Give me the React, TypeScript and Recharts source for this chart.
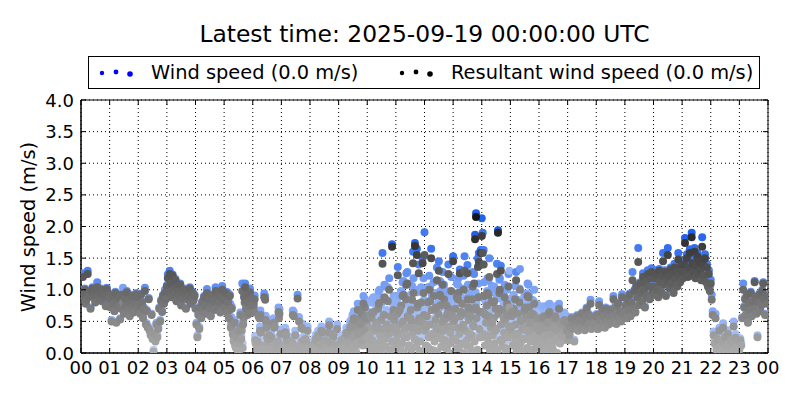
import { ScatterChart, Scatter, XAxis, YAxis, CartesianGrid, ReferenceArea } from "recharts";

// hour axis, 00..23 then 00 again at the right edge
const hourTicks = [0, 1, 2, 3, 4, 5, 6, 7, 8, 9, 10, 11, 12, 13, 14, 15, 16, 17, 18, 19, 20, 21, 22, 23, 24];
const hourLabels = ["00", "01", "02", "03", "04", "05", "06", "07", "08", "09", "10", "11", "12", "13", "14", "15", "16", "17", "18", "19", "20", "21", "22", "23", "00"];
const speedTicks = [0, 0.5, 1, 1.5, 2, 2.5, 3, 3.5, 4];

// one sample every 2 minutes (even minutes), 30 per hour, values in cm/s
const windSpeedCms = [
  94, 90, 126, 97, 102, 80, 87, 130, 98, 92, 72, 100, 104, 90, 95, 82, 101, 112, 93, 88, 97, 102, 84, 99, 91, 95, 76, 103, 97, 92, // 00
  87, 74, 52, 92, 80, 68, 97, 50, 84, 76, 90, 55, 72, 94, 103, 64, 88, 77, 98, 70, 86, 60, 81, 92, 74, 66, 89, 79, 95, 72, // 01
  90, 77, 64, 94, 82, 57, 72, 103, 48, 68, 43, 87, 38, 31, 62, 25, 5, 33, 21, 48, 28, 41, 72, 52, 84, 67, 92, 80, 100, 87, // 02
  107, 124, 98, 130, 112, 90, 124, 102, 95, 117, 84, 106, 100, 92, 110, 77, 97, 88, 102, 94, 72, 99, 86, 93, 104, 80, 90, 97, 85, 92, // 03
  72, 48, 28, 62, 41, 74, 57, 82, 68, 90, 76, 64, 101, 80, 87, 72, 60, 92, 78, 84, 70, 104, 88, 74, 94, 82, 66, 90, 106, 86, // 04
  87, 74, 97, 66, 82, 58, 92, 44, 73, 34, 22, 52, 14, 29, 9, 39, 19, 64, 26, 110, 49, 90, 110, 72, 94, 82, 64, 102, 77, 88, // 05
  88, 84, 91, 22, 19, 25, 65, 62, 67, 12, 9, 13, 94, 90, 48, 32, 29, 35, 9, 7, 11, 52, 55, 49, 17, 15, 21, 72, 69, 37, // 06
  11, 9, 14, 37, 40, 35, 6, 7, 8, 22, 25, 19, 67, 65, 10, 8, 6, 92, 17, 19, 15, 47, 45, 9, 27, 29, 25, 12, 10, 15, // 07
  14, 16, 12, 6, 8, 7, 29, 27, 32, 11, 9, 21, 42, 40, 6, 18, 21, 16, 8, 6, 50, 24, 22, 10, 35, 37, 13, 6, 9, 19, // 08
  10, 12, 8, 27, 25, 6, 17, 19, 40, 8, 6, 22, 50, 52, 15, 33, 66, 63, 20, 23, 78, 38, 56, 59, 72, 28, 90, 44, 70, 67, // 09
  48, 45, 50, 82, 80, 85, 30, 28, 33, 66, 68, 62, 98, 100, 40, 38, 158, 35, 108, 105, 58, 55, 60, 118, 25, 28, 172, 78, 75, 80, // 10
  62, 58, 136, 90, 92, 28, 25, 112, 114, 48, 50, 126, 128, 34, 35, 78, 75, 106, 160, 64, 174, 44, 165, 100, 140, 22, 26, 74, 150, 118, // 11
  191, 68, 65, 32, 30, 122, 105, 165, 50, 52, 26, 92, 95, 135, 62, 145, 114, 112, 45, 128, 76, 78, 30, 98, 85, 140, 22, 55, 120, 80, // 12
  153, 75, 78, 42, 110, 108, 30, 132, 88, 62, 64, 122, 153, 38, 35, 139, 95, 52, 80, 24, 108, 66, 125, 187, 221, 90, 150, 158, 48, 163, // 13
  213, 190, 163, 85, 82, 50, 118, 115, 150, 32, 35, 70, 102, 105, 58, 26, 141, 194, 92, 118, 138, 42, 45, 78, 108, 24, 20, 82, 125, 130, // 14
  62, 64, 88, 34, 36, 106, 128, 52, 26, 30, 133, 74, 44, 20, 24, 92, 94, 58, 110, 108, 70, 40, 82, 84, 24, 100, 50, 32, 64, 76, // 15
  52, 55, 30, 28, 72, 74, 42, 22, 20, 66, 76, 78, 36, 48, 26, 60, 58, 74, 40, 18, 56, 78, 33, 62, 45, 48, 62, 50, 54, 58, // 16
  37, 23, 30, 44, 57, 40, 47, 21, 52, 42, 60, 37, 48, 54, 42, 64, 46, 52, 38, 57, 72, 44, 62, 48, 84, 40, 58, 50, 46, 60, // 17
  47, 62, 40, 82, 54, 44, 67, 50, 60, 42, 72, 52, 64, 47, 57, 70, 50, 60, 90, 54, 80, 48, 62, 80, 57, 68, 52, 93, 64, 60, // 18
  64, 77, 57, 87, 70, 94, 60, 82, 128, 72, 100, 66, 107, 90, 166, 78, 112, 97, 84, 126, 102, 74, 114, 92, 131, 107, 87, 120, 134, 100, // 19
  107, 94, 121, 131, 102, 90, 133, 114, 98, 125, 158, 110, 131, 92, 117, 166, 123, 104, 135, 112, 128, 97, 141, 120, 131, 107, 158, 124, 114, 144, // 20
  134, 124, 146, 182, 131, 156, 126, 141, 164, 128, 190, 148, 134, 166, 124, 144, 158, 130, 151, 136, 121, 183, 146, 128, 156, 118, 141, 111, 131, 104, // 21
  116, 92, 66, 34, 21, 62, 10, 28, 5, 40, 15, 6, 24, 47, 10, 31, 4, 17, 36, 22, 12, 26, 4, 20, 50, 9, 30, 15, 3, 24, // 22
  8, 23, 15, 57, 110, 74, 87, 62, 94, 50, 80, 70, 97, 60, 84, 72, 114, 90, 64, 28, 82, 94, 68, 77, 100, 112, 87, 62, 92, 80, // 23
];

const resultantCms = [
  92, 88, 120, 95, 100, 78, 85, 125, 96, 90, 70, 98, 102, 88, 93, 80, 99, 104, 91, 86, 95, 100, 82, 97, 89, 93, 74, 101, 95, 90, // 00
  85, 72, 50, 90, 78, 66, 95, 48, 82, 74, 88, 53, 70, 92, 80, 62, 86, 75, 96, 68, 84, 58, 79, 90, 72, 64, 87, 77, 93, 70, // 01
  88, 75, 62, 92, 80, 55, 70, 98, 45, 66, 40, 85, 35, 28, 60, 22, 2, 30, 18, 45, 25, 38, 70, 50, 82, 65, 90, 78, 95, 85, // 02
  105, 118, 96, 125, 110, 88, 122, 100, 93, 115, 82, 104, 98, 90, 108, 75, 95, 86, 100, 92, 70, 97, 84, 91, 102, 78, 88, 95, 83, 90, // 03
  70, 45, 25, 60, 38, 72, 55, 80, 66, 88, 74, 62, 95, 78, 85, 70, 58, 90, 76, 82, 68, 98, 86, 72, 92, 80, 64, 88, 100, 84, // 04
  85, 72, 95, 64, 80, 55, 90, 40, 70, 30, 18, 48, 10, 25, 5, 35, 15, 60, 22, 98, 45, 88, 104, 70, 92, 80, 62, 96, 75, 86, // 05
  82, 78, 85, 15, 12, 18, 58, 55, 60, 5, 2, 6, 88, 84, 40, 25, 22, 28, 2, 0, 4, 45, 48, 42, 10, 8, 14, 65, 62, 30, // 06
  5, 3, 8, 30, 33, 28, 0, 1, 2, 15, 18, 12, 60, 58, 4, 2, 0, 86, 10, 12, 8, 40, 38, 3, 20, 22, 18, 6, 4, 9, // 07
  8, 10, 6, 0, 2, 1, 22, 20, 25, 5, 3, 14, 35, 33, 0, 12, 15, 10, 2, 0, 44, 18, 16, 4, 28, 30, 7, 0, 3, 13, // 08
  4, 6, 2, 20, 18, 0, 10, 12, 32, 2, 0, 15, 40, 42, 8, 25, 55, 52, 12, 15, 68, 30, 45, 48, 62, 20, 78, 35, 58, 55, // 09
  25, 22, 28, 60, 58, 63, 8, 5, 10, 42, 45, 40, 78, 80, 18, 15, 141, 12, 88, 85, 35, 32, 38, 100, 2, 5, 168, 55, 52, 58, // 10
  38, 35, 123, 66, 68, 5, 2, 90, 92, 25, 28, 108, 110, 10, 12, 55, 52, 84, 142, 40, 169, 20, 155, 78, 126, 0, 3, 50, 142, 95, // 11
  155, 45, 42, 10, 8, 100, 82, 150, 28, 30, 4, 70, 72, 115, 38, 130, 92, 90, 22, 108, 52, 55, 8, 75, 62, 125, 0, 32, 98, 58, // 12
  145, 52, 55, 20, 88, 85, 8, 126, 65, 40, 42, 100, 130, 15, 12, 126, 72, 30, 58, 2, 85, 44, 110, 180, 215, 68, 136, 144, 25, 158, // 13
  185, 158, 140, 62, 60, 28, 95, 92, 120, 10, 12, 48, 80, 82, 35, 5, 125, 190, 70, 100, 130, 20, 22, 55, 88, 2, 0, 60, 105, 72, // 14
  40, 42, 65, 12, 15, 85, 115, 30, 5, 8, 100, 52, 22, 0, 3, 70, 72, 35, 90, 88, 48, 18, 60, 62, 3, 78, 28, 10, 42, 55, // 15
  35, 38, 12, 10, 55, 58, 25, 4, 2, 48, 62, 65, 18, 30, 8, 42, 40, 58, 22, 0, 38, 70, 15, 45, 28, 30, 50, 35, 42, 48, // 16
  35, 20, 28, 42, 55, 38, 45, 18, 50, 40, 58, 35, 46, 52, 40, 62, 44, 50, 36, 55, 70, 42, 60, 46, 78, 38, 56, 48, 44, 58, // 17
  45, 60, 38, 76, 52, 42, 65, 48, 58, 40, 70, 50, 62, 45, 55, 68, 48, 58, 85, 52, 72, 46, 60, 78, 55, 66, 50, 88, 62, 58, // 18
  62, 75, 55, 85, 68, 92, 58, 80, 115, 70, 98, 64, 105, 88, 144, 76, 110, 95, 82, 120, 100, 72, 112, 90, 125, 105, 85, 118, 128, 98, // 19
  105, 92, 118, 125, 100, 88, 130, 112, 96, 122, 145, 108, 128, 90, 115, 155, 120, 102, 132, 110, 125, 95, 135, 118, 128, 105, 148, 122, 112, 138, // 20
  128, 118, 140, 174, 125, 150, 120, 135, 158, 122, 183, 142, 128, 160, 118, 138, 152, 124, 145, 130, 115, 168, 140, 122, 150, 112, 135, 105, 125, 98, // 21
  110, 84, 60, 28, 15, 55, 5, 22, 0, 35, 10, 2, 18, 40, 6, 25, 0, 12, 30, 3, 8, 20, 0, 15, 42, 5, 24, 10, 0, 18, // 22
  5, 20, 12, 55, 100, 72, 85, 60, 92, 48, 78, 68, 95, 58, 82, 70, 112, 88, 62, 25, 80, 92, 66, 75, 98, 110, 85, 60, 90, 78, // 23
];

// odd-minute samples for the gusty part of the day, 05:00 to 17:00
const ODD_START_HOUR = 5;
const oddWindSpeedCms = [
  84, 88, 81, 96, 94, 74, 78, 57, 52, 35, 29, 19, 15, 37, 25, 10, 17, 47, 42, 15, 62, 86, 98, 91, 67, 78, 101, 94, 76, 88, // 05
  76, 71, 27, 25, 11, 14, 8, 42, 39, 19, 6, 9, 17, 59, 55, 22, 12, 6, 29, 32, 14, 10, 47, 19, 6, 8, 25, 62, 11, 17, // 06
  9, 18, 16, 6, 12, 29, 27, 8, 6, 14, 20, 22, 10, 7, 35, 12, 6, 16, 57, 9, 8, 24, 21, 6, 11, 18, 8, 42, 14, 6, // 07
  8, 6, 18, 16, 10, 25, 6, 12, 35, 9, 6, 21, 14, 8, 6, 27, 17, 11, 6, 39, 15, 7, 20, 6, 32, 12, 9, 16, 45, 8, // 08
  6, 16, 9, 21, 12, 6, 31, 11, 15, 38, 19, 8, 45, 28, 60, 18, 40, 32, 7, 52, 64, 25, 36, 78, 48, 22, 64, 85, 40, 58, // 09
  35, 65, 55, 28, 80, 45, 88, 25, 58, 72, 38, 92, 32, 52, 76, 22, 62, 84, 46, 34, 68, 104, 54, 28, 82, 42, 64, 90, 36, 56, // 10
  44, 86, 32, 68, 54, 98, 38, 74, 24, 62, 108, 48, 82, 36, 66, 92, 28, 56, 118, 46, 72, 34, 96, 58, 78, 42, 104, 64, 26, 84, // 11
  58, 36, 82, 104, 48, 68, 28, 92, 54, 112, 42, 76, 64, 24, 86, 52, 98, 34, 72, 58, 108, 44, 78, 32, 66, 94, 38, 62, 84, 46, // 12
  74, 46, 94, 32, 64, 118, 54, 82, 38, 102, 68, 24, 86, 58, 44, 108, 76, 34, 92, 52, 128, 66, 42, 96, 78, 28, 110, 62, 88, 48, // 13
  88, 54, 112, 36, 72, 98, 46, 82, 28, 64, 106, 52, 78, 38, 94, 62, 22, 86, 116, 44, 68, 34, 92, 56, 76, 30, 100, 48, 66, 82, // 14
  58, 80, 35, 92, 48, 68, 24, 84, 52, 102, 38, 72, 60, 22, 88, 44, 76, 30, 64, 94, 50, 28, 70, 56, 82, 40, 62, 32, 74, 52, // 15
  40, 64, 26, 52, 72, 35, 58, 20, 48, 76, 30, 56, 66, 40, 24, 62, 46, 70, 36, 52, 58, 42, 62, 48, 55, 36, 64, 50, 56, 44, // 16
];
const oddResultantCms = [
  78, 82, 75, 90, 88, 68, 72, 50, 45, 28, 22, 12, 8, 30, 18, 3, 10, 40, 35, 8, 55, 80, 92, 85, 60, 72, 95, 88, 70, 82, // 05
  70, 65, 20, 18, 5, 8, 2, 35, 32, 12, 0, 3, 10, 52, 48, 15, 6, 0, 22, 25, 8, 4, 40, 12, 0, 2, 18, 55, 5, 10, // 06
  3, 12, 10, 0, 6, 22, 20, 2, 0, 8, 14, 16, 4, 1, 28, 6, 0, 10, 50, 3, 2, 18, 15, 0, 5, 12, 2, 35, 8, 0, // 07
  2, 0, 12, 10, 4, 18, 0, 6, 28, 3, 0, 15, 8, 2, 0, 20, 11, 5, 0, 32, 9, 1, 14, 0, 25, 6, 3, 10, 38, 2, // 08
  0, 10, 3, 14, 6, 0, 24, 5, 8, 30, 12, 2, 35, 18, 48, 10, 30, 22, 0, 40, 52, 15, 25, 65, 35, 12, 50, 72, 28, 45, // 09
  12, 40, 30, 5, 55, 20, 65, 2, 35, 48, 15, 70, 8, 28, 52, 0, 38, 60, 22, 10, 45, 82, 30, 5, 58, 18, 40, 68, 12, 32, // 10
  20, 62, 8, 45, 30, 75, 15, 50, 0, 38, 85, 25, 58, 12, 42, 68, 5, 32, 95, 22, 48, 10, 72, 35, 55, 18, 80, 40, 2, 60, // 11
  35, 12, 58, 80, 25, 45, 5, 68, 30, 90, 18, 52, 40, 0, 62, 28, 75, 10, 48, 35, 85, 20, 55, 8, 42, 70, 15, 38, 60, 22, // 12
  50, 22, 70, 8, 40, 95, 30, 58, 15, 78, 45, 0, 62, 35, 20, 85, 52, 10, 68, 28, 105, 42, 18, 72, 55, 5, 88, 38, 65, 25, // 13
  65, 30, 90, 12, 48, 75, 22, 58, 5, 40, 82, 28, 55, 15, 70, 38, 0, 62, 95, 20, 45, 10, 68, 32, 52, 8, 78, 25, 42, 60, // 14
  35, 58, 12, 70, 25, 45, 2, 62, 30, 80, 15, 50, 38, 0, 65, 22, 55, 8, 42, 72, 28, 5, 48, 35, 60, 18, 40, 10, 52, 30, // 15
  20, 45, 5, 32, 55, 15, 40, 0, 28, 60, 10, 38, 50, 22, 5, 45, 30, 55, 18, 35, 42, 25, 48, 32, 40, 20, 52, 38, 45, 30, // 16
];

const SAMPLES_PER_HOUR = 30;

// each point keeps how steady the wind was (resultant / scalar speed) for the shading
const toPoints = (cms: number[], wind: number[], res: number[], startHour: number, offset: number) =>
  cms.map((v, i) => ({
    time: startHour + (i + offset) / SAMPLES_PER_HOUR,
    speed: v / 100,
    steadiness: wind[i] > 0 ? res[i] / wind[i] : 1,
  }));

const windData = toPoints(windSpeedCms, windSpeedCms, resultantCms, 0, 0);
const resultantData = toPoints(resultantCms, windSpeedCms, resultantCms, 0, 0);
const oddWindData = toPoints(oddWindSpeedCms, oddWindSpeedCms, oddResultantCms, ODD_START_HOUR, 0.5);
const oddResultantData = toPoints(oddResultantCms, oddWindSpeedCms, oddResultantCms, ODD_START_HOUR, 0.5);

const FONT = "'DejaVu Sans', sans-serif";
const PLOT_TOP = 100;
const PLOT_BOTTOM = 353;
const PLOT_LEFT = 81;
const PLOT_RIGHT = 768;
const DOT_R = 4;

const clamp = (v: number, lo: number, hi: number) => Math.max(lo, Math.min(hi, v));

// 0 = white, 1 = full colour; faster and steadier wind is drawn darker
const shade = (speed: number, steadiness: number, slope: number) => {
  const q = clamp((steadiness - 0.55) / 0.4, 0, 1);
  return clamp(0.33 + slope * speed * (0.25 + 0.75 * q), 0, 0.92);
};
const mix = (k: number, r: number, g: number, b: number) =>
  `rgb(${Math.round(255 + (r - 255) * k)},${Math.round(255 + (g - 255) * k)},${Math.round(255 + (b - 255) * k)})`;

const WindDot = (props: any) => (
  <circle cx={props.cx} cy={props.cy} r={DOT_R} fill={mix(shade(props.payload.speed, props.payload.steadiness, 0.32) - 0.04, 0, 75, 235)} />
);
const ResultantDot = (props: any) => (
  <circle cx={props.cx} cy={props.cy} r={DOT_R} fill={mix(shade(props.payload.speed, props.payload.steadiness, 0.27), 0, 0, 0)} />
);

function HourTick({ x, payload }: any) {
  return (
    <g>
      <line x1={x} x2={x} y1={PLOT_BOTTOM} y2={PLOT_BOTTOM - 5} stroke="#000" />
      <line x1={x} x2={x} y1={PLOT_TOP} y2={PLOT_TOP + 5} stroke="#000" />
      <text x={x} y={PLOT_BOTTOM + 21} textAnchor="middle" fontSize={18} fontFamily={FONT} fill="#000">
        {hourLabels[payload.value]}
      </text>
    </g>
  );
}

function SpeedTick({ y, payload }: any) {
  return (
    <g>
      <line x1={PLOT_LEFT} x2={PLOT_LEFT + 5} y1={y} y2={y} stroke="#000" />
      <line x1={PLOT_RIGHT} x2={PLOT_RIGHT - 5} y1={y} y2={y} stroke="#000" />
      <text x={PLOT_LEFT - 7} y={y + 6.5} textAnchor="end" fontSize={18} fontFamily={FONT} fill="#000">
        {payload.value.toFixed(1)}
      </text>
    </g>
  );
}

function LegendDots({ color, x }: { color: string; x: number }) {
  return (
    <svg style={{ position: "absolute", left: x, top: 0 }} width={40} height={33}>
      <circle cx={5} cy={16} r={2.2} fill={color} />
      <circle cx={19} cy={15} r={2.4} fill={color} />
      <circle cx={33} cy={17} r={2.8} fill={color} />
    </svg>
  );
}

export default function App() {
  return (
    <div style={{ position: "absolute", left: 0, top: 0, width: 800, height: 400, background: "#fff", fontFamily: FONT }}>
      <div style={{ position: "absolute", left: 0, width: 849, top: 21, fontSize: 23.4, lineHeight: "27px", textAlign: "center" }}>
        Latest time: 2025-09-19 00:00:00 UTC
      </div>

      <div style={{ position: "absolute", left: 88, top: 56, width: 672, height: 33, border: "1px solid #000", boxSizing: "border-box", background: "#fff", zIndex: 2 }}>
        <LegendDots color="#0000ff" x={8} />
        <span style={{ position: "absolute", left: 62, top: 5, fontSize: 19.4, lineHeight: "22px", whiteSpace: "nowrap" }}>
          Wind speed (0.0 m/s)
        </span>
        <LegendDots color="#000000" x={308} />
        <span style={{ position: "absolute", left: 362, top: 5, fontSize: 19.4, lineHeight: "22px", whiteSpace: "nowrap" }}>
          Resultant wind speed (0.0 m/s)
        </span>
      </div>

      <div style={{ position: "absolute", left: 29 - 150, top: 227 - 12, width: 300, height: 24, lineHeight: "24px", fontSize: 19.4, textAlign: "center", transform: "rotate(-90deg)", whiteSpace: "nowrap" }}>
        Wind speed (m/s)
      </div>

      <ScatterChart width={800} height={400} margin={{ top: PLOT_TOP, right: 800 - PLOT_RIGHT, bottom: 0, left: 0 }}>
        <CartesianGrid stroke="#000" strokeDasharray="1 3" strokeWidth={1} />
        <XAxis
          dataKey="time"
          type="number"
          domain={[0, 24]}
          ticks={hourTicks}
          interval={0}
          height={400 - PLOT_BOTTOM}
          tickSize={0}
          tickLine={false}
          allowDataOverflow
          axisLine={{ stroke: "#000" }}
          tick={<HourTick />}
        />
        <YAxis
          dataKey="speed"
          type="number"
          domain={[0, 4]}
          ticks={speedTicks}
          interval={0}
          width={PLOT_LEFT}
          tickSize={0}
          tickLine={false}
          allowDataOverflow
          axisLine={{ stroke: "#000" }}
          tick={<SpeedTick />}
        />
        <Scatter data={oddWindData} shape={WindDot} isAnimationActive={false} />
        <Scatter data={windData} shape={WindDot} isAnimationActive={false} />
        <Scatter data={oddResultantData} shape={ResultantDot} isAnimationActive={false} />
        <Scatter data={resultantData} shape={ResultantDot} isAnimationActive={false} />
        <ReferenceArea x1={0} x2={24} y1={0} y2={4} fill="none" stroke="#000" strokeWidth={1} ifOverflow="visible" />
      </ScatterChart>
    </div>
  );
}
